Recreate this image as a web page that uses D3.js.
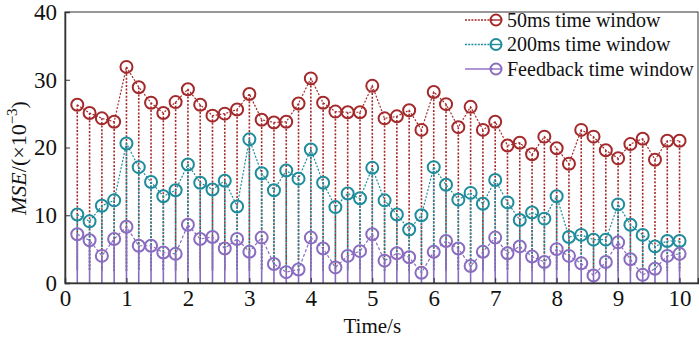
<!DOCTYPE html>
<html>
<head>
<meta charset="utf-8">
<script src="https://cdn.jsdelivr.net/npm/d3@7"></script>
<style>
  body { margin: 0; background: #fff; }
  svg text { font-family: "Liberation Serif", "Times New Roman", Times, "DejaVu Serif", serif; fill: #111; }
</style>
</head>
<body>
<div id="chart"></div>
<script>
// data
const times = [0.2,0.4,0.6,0.8,1.0,1.2,1.4,1.6,1.8,2.0,2.2,2.4,2.6,2.8,3.0,3.2,3.4,3.6,3.8,4.0,
  4.2,4.4,4.6,4.8,5.0,5.2,5.4,5.6,5.8,6.0,6.2,6.4,6.6,6.8,7.0,7.2,7.4,7.6,7.8,8.0,
  8.2,8.4,8.6,8.8,9.0,9.2,9.4,9.6,9.8,10.0];
const mse50 = [26.3,25.1,24.3,23.8,31.9,28.9,26.6,25.1,26.7,28.6,26.3,24.7,25.0,
  25.6,27.9,24.1,23.7,23.8,26.5,30.2,26.6,25.3,25.2,25.2,29.1,24.3,
  24.6,25.5,22.6,28.2,26.4,23.0,26.0,22.6,23.8,20.3,20.7,19.0,21.6,
  19.9,17.6,22.6,21.6,19.6,18.4,20.5,21.3,18.2,21.0,21.0];
const mse200 = [10.1,9.1,11.4,12.2,20.6,17.1,14.9,12.8,13.7,17.5,14.8,13.8,15.1,
  11.3,21.2,16.2,13.7,16.6,15.4,19.7,14.8,11.2,13.2,12.5,17.0,12.2,
  10.1,7.9,10.0,17.1,14.5,12.3,13.3,11.7,15.2,11.9,9.3,10.4,9.5,
  12.8,6.8,7.1,6.4,6.4,11.6,8.6,7.1,5.4,6.2,6.2];
const mseFeedback = [7.2,6.3,4.0,6.5,8.3,5.5,5.5,4.5,4.3,8.6,6.5,6.8,5.1,
  6.5,4.6,6.7,2.8,1.6,2.0,6.7,5.1,2.3,4.0,4.7,7.2,3.3,
  4.4,3.8,1.5,4.6,6.2,5.1,2.5,4.6,6.7,4.4,5.4,3.9,3.1,
  5.0,4.0,2.9,1.1,3.1,6.0,3.5,1.2,2.1,4.0,4.3];
const seriesNames = ["50ms time window", "200ms time window", "Feedback time window"];
const xTicks = [0,1,2,3,4,5,6,7,8,9,10];
const yTicks = [0,10,20,30,40];

const serif = "'Liberation Serif', 'Times New Roman', Times, 'DejaVu Serif', serif";

const W = 699, H = 343;
const margin = { top: 12, right: 1, bottom: 60, left: 65 },
    width = W - margin.left - margin.right,
    height = H - margin.top - margin.bottom;

const svg = d3.select("#chart").append("svg")
    .attr("width", W).attr("height", H);
const g = svg.append("g")
    .attr("transform", `translate(${margin.left},${margin.top})`);

const x = d3.scaleLinear().domain([0, 10.3]).range([0, width]);
const y = d3.scaleLinear().domain([0, 40]).range([height, 0]);

const series = [
  { name: seriesNames[0], values: mse50, color: "#a3292b", stem: "2,1.6", link: "2,1.6" },
  { name: seriesNames[1], values: mse200, color: "#1f8c9c", stem: "2,1.6", link: "2,1.6" },
  { name: seriesNames[2], values: mseFeedback, color: "#8a6cc0", stem: null, link: "3,2" }
];
const stemBase = 1.8; // dotted stems stop here, the solid feedback stems fill below

series.forEach((s, i) => {
  const pts = times.map((t, k) => ({ t, v: s.values[k] }));
  // stems
  g.append("g").selectAll("line")
    .data(pts)
    .join("line")
    .attr("x1", d => x(d.t)).attr("x2", d => x(d.t))
    .attr("y1", d => y(d.v))
    .attr("y2", d => s.stem ? y(stemBase) : y(Math.min(d.v, stemBase)))
    .attr("stroke", s.color)
    .attr("stroke-width", 1.6)
    .attr("stroke-dasharray", s.stem);
  // connecting line
  g.append("path")
    .datum(pts)
    .attr("fill", "none")
    .attr("stroke", s.color)
    .attr("stroke-width", 1.2)
    .attr("stroke-dasharray", s.link)
    .attr("d", d3.line().x(d => x(d.t)).y(d => y(d.v)));
  // markers
  g.append("g").selectAll("circle")
    .data(pts)
    .join("circle")
    .attr("cx", d => x(d.t)).attr("cy", d => y(d.v))
    .attr("r", 6)
    .attr("fill", "none")
    .attr("stroke", s.color)
    .attr("stroke-width", 2);
});

// purple stems below the dotted ones
g.append("g").selectAll("line")
  .data(times)
  .join("line")
  .attr("x1", d => x(d)).attr("x2", d => x(d))
  .attr("y1", y(0)).attr("y2", y(stemBase))
  .attr("stroke", series[2].color)
  .attr("stroke-width", 1.6);

// frame
g.append("rect")
  .attr("width", width).attr("height", height)
  .attr("fill", "none").attr("stroke", "#333").attr("stroke-width", 1);

// axes
const xAxis = g.append("g")
  .attr("transform", `translate(0,${height})`)
  .call(d3.axisBottom(x).tickValues(xTicks).tickSize(-5).tickPadding(7).tickFormat(d3.format("d")));
const yAxis = g.append("g")
  .call(d3.axisLeft(y).tickValues(yTicks).tickSize(-5).tickPadding(8));
[xAxis, yAxis].forEach(a => {
  a.attr("font-family", serif).attr("font-size", 23);
  a.select(".domain").attr("stroke", "#333").attr("stroke-width", 1.5);
  a.selectAll(".tick line").attr("stroke", "#333");
  a.selectAll(".tick text").attr("fill", "#111");
});

// axis titles
svg.append("text")
  .attr("x", margin.left + x(5)).attr("y", 333)
  .attr("text-anchor", "middle")
  .attr("font-family", serif)
  .attr("font-size", 21)
  .text("Time/s");

const yl = svg.append("text")
  .attr("transform", `translate(26,158) rotate(-90)`)
  .attr("text-anchor", "middle")
  .attr("font-family", serif)
  .attr("font-size", 22);
yl.append("tspan").style("font-style", "italic").text("MSE");
yl.append("tspan").text("/(×10");
yl.append("tspan").attr("dy", -9).attr("font-size", 15).text("−3");
yl.append("tspan").attr("dy", 9).text(")");

// legend
const legend = svg.append("g").attr("transform", "translate(465,20)");
series.forEach((s, i) => {
  const row = legend.append("g").attr("transform", `translate(0,${i * 24.5})`);
  row.append("line")
    .attr("x1", 0).attr("x2", 28)
    .attr("stroke", s.color).attr("stroke-width", 1.4)
    .attr("stroke-dasharray", s.stem ? "2,1.2" : null);
  row.append("circle")
    .attr("cx", 31).attr("r", 5.5)
    .attr("fill", "none").attr("stroke", s.color).attr("stroke-width", 2);
  row.append("line")
    .attr("x1", 25.5).attr("x2", 36.5)
    .attr("stroke", s.color).attr("stroke-width", 1.4);
  row.append("text")
    .attr("x", 42).attr("y", 6.5)
    .attr("font-family", serif)
    .attr("font-size", 20)
    .text(s.name);
});
</script>
</body>
</html>
